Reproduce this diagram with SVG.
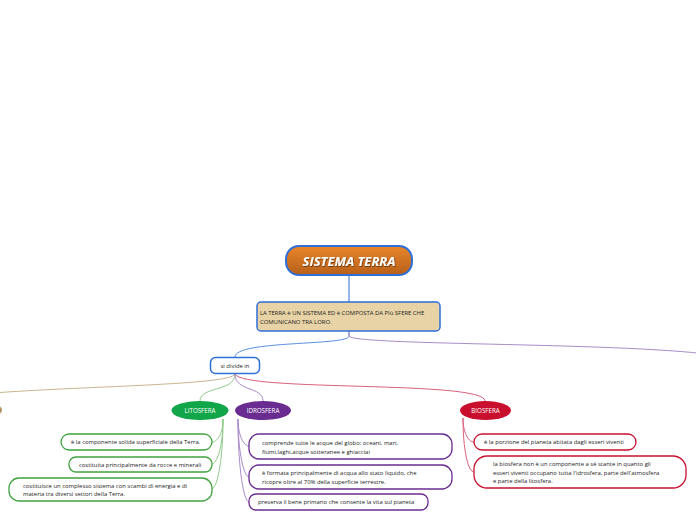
<svg xmlns="http://www.w3.org/2000/svg" width="696" height="520" viewBox="0 0 696 520">
<defs>
<linearGradient id="og" x1="0" y1="0" x2="0" y2="1">
<stop offset="0" stop-color="#E8852A"/>
<stop offset="1" stop-color="#B8601A"/>
</linearGradient>
<filter id="ts" x="-10%" y="-30%" width="120%" height="160%">
<feDropShadow dx="0.6" dy="0.8" stdDeviation="0.4" flood-color="#000" flood-opacity="0.6"/>
</filter>
</defs>
<style>
text{font-family:"Open Sans","Noto Sans","DejaVu Sans",sans-serif;fill:#222;}
.t{font-size:5.9px;}
.c{fill:none;stroke-width:1;}
.gb{fill:#fff;stroke:#3FA33F;stroke-width:1.3;}
.pb{fill:#fff;stroke:#6B2C91;stroke-width:1.3;}
.rb{fill:#fff;stroke:#C8102E;stroke-width:1.3;}
.el{font-size:6.2px;fill:#fff;text-anchor:middle;}
</style>
<rect width="696" height="520" fill="#fff"/>
<g id="connectors">
<path class="c" stroke="#2E6FD8" stroke-width="1.5" d="M349 276 L349 302"/>
<path class="c" stroke="#5B8FE0" d="M349 331 L349 336 C349 346 235 340 235 357"/>
<path class="c" stroke="#A98BC8" d="M349 331 L349 336 C352 346 640 342 720 356"/>
<path class="c" stroke="#C9B48E" d="M235 374 C232 386 60 386 -30 395"/>
<path class="c" stroke="#8FCB8A" d="M235 374 C235 392 200 386 200 401"/>
<path class="c" stroke="#A98BC8" d="M235 374 C235 392 263 386 263 401"/>
<path class="c" stroke="#D9607A" d="M235 374 C242 392 485 380 485 401"/>
<path class="c" stroke="#8FCB8A" d="M223 419 C223 436 216 442 212 442"/>
<path class="c" stroke="#8FCB8A" d="M223 419 C223 450 216 464 212 464"/>
<path class="c" stroke="#8FCB8A" d="M223 419 C223 466 216 489 212 489"/>
<path class="c" stroke="#A98BC8" d="M238 419 C238 436 244 446 249 446"/>
<path class="c" stroke="#A98BC8" d="M238 419 C238 452 244 477 249 477"/>
<path class="c" stroke="#A98BC8" d="M238 419 C238 470 244 502 249 502"/>
<path class="c" stroke="#D9607A" d="M463 418 C463 432 468 442 474 442"/>
<path class="c" stroke="#D9607A" d="M463 418 C463 450 468 472 474 472"/>
</g>
<g id="root">
<rect x="286" y="246" width="126" height="29" rx="13" fill="url(#og)" stroke="#2E6FD8" stroke-width="2"/>
<text x="349" y="265.5" text-anchor="middle" style="font-size:13px;font-weight:bold;font-style:italic;fill:#fff" filter="url(#ts)">SISTEMA TERRA</text>
</g>
<g id="descr">
<rect x="257" y="302" width="183" height="29" rx="4" fill="#E8D3A6" stroke="#2E6FD8" stroke-width="1.5"/>
<text class="t" x="260" y="315">LA TERRA è UN SISTEMA ED è COMPOSTA DA PIù SFERE CHE</text>
<text class="t" x="260" y="323.5">COMUNICANO TRA LORO.</text>
</g>
<g id="sidivide">
<rect x="210.5" y="357.5" width="49" height="16" rx="5" fill="#fff" stroke="#2E6FD8" stroke-width="1.5"/>
<text class="t" x="235" y="367.5" text-anchor="middle">si divide in</text>
</g>
<g id="leftnode">
<ellipse cx="-22" cy="410" rx="24" ry="9" fill="#B0925E"/>
</g>
<g id="litosfera">
<ellipse cx="200" cy="410.5" rx="28.5" ry="9.5" fill="#12A64A"/>
<text class="el" x="200" y="412.7">LITOSFERA</text>
</g>
<g id="idrosfera">
<ellipse cx="263" cy="410.5" rx="28" ry="9.5" fill="#6B2C91"/>
<text class="el" x="263" y="412.7">IDROSFERA</text>
</g>
<g id="biosfera">
<ellipse cx="485.5" cy="410.5" rx="25.5" ry="9.5" fill="#C8102E"/>
<text class="el" x="485.5" y="412.7">BIOSFERA</text>
</g>
<g id="lito1">
<rect class="gb" x="61" y="434" width="151" height="16" rx="8"/>
<text class="t" x="71" y="444">è la componente solida superficiale della Terra.</text>
</g>
<g id="lito2">
<rect class="gb" x="69" y="457" width="143" height="15" rx="7"/>
<text class="t" x="79" y="466.5">costituita principalmente da rocce e minerali</text>
</g>
<g id="lito3">
<rect class="gb" x="9" y="478" width="203" height="23" rx="10"/>
<text class="t" x="23" y="487.5">costituisce un complesso sistema con scambi di energia e di</text>
<text class="t" x="23" y="496">materia tra diversi settori della Terra.</text>
</g>
<g id="idro1">
<rect class="pb" x="249" y="434" width="203" height="25" rx="10"/>
<text class="t" x="262" y="444.5">comprende tutte le acque del globo: oceani, mari,</text>
<text class="t" x="262" y="453.5">fiumi,laghi,acque sotteranee e ghiacciai</text>
</g>
<g id="idro2">
<rect class="pb" x="249" y="465" width="203" height="24" rx="10"/>
<text class="t" x="262" y="475">è formata principalmente di acqua allo stato liquido, che</text>
<text class="t" x="262" y="484">ricopre oltre al 70% della superficie terrestre.</text>
</g>
<g id="idro3">
<rect class="pb" x="249" y="494" width="179" height="16" rx="7"/>
<text class="t" x="258" y="504">preserva il bene primario che consente la vita sul pianeta</text>
</g>
<g id="bio1">
<rect class="rb" x="474" y="434" width="162" height="16" rx="8"/>
<text class="t" x="484" y="444">è la porzione del pianeta abitata dagli esseri viventi</text>
</g>
<g id="bio2">
<rect class="rb" x="474" y="456" width="212" height="32" rx="13"/>
<text class="t" x="493" y="466">la biosfera non è un componente a sè stante in quanto gli</text>
<text class="t" x="493" y="474.5">esseri viventi occupano tutta l'idrosfera, parte dell'atmosfera</text>
<text class="t" x="493" y="483">e parte della litosfera.</text>
</g>
</svg>
